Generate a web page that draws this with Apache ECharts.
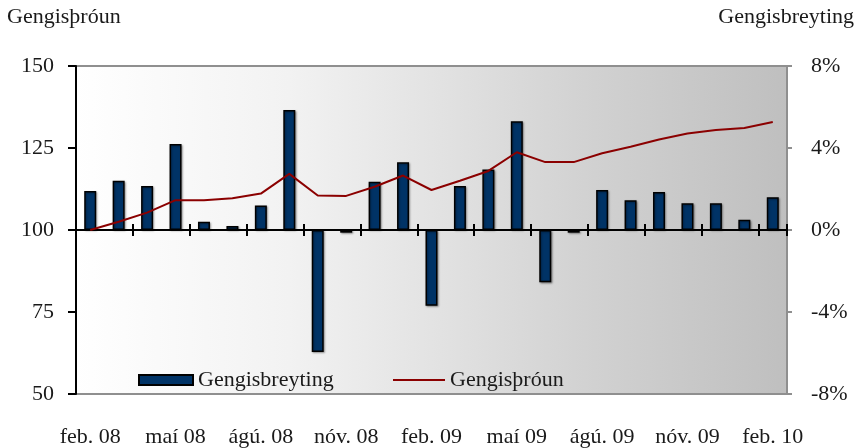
<!DOCTYPE html>
<html>
<head>
<meta charset="utf-8">
<script src="https://cdn.jsdelivr.net/npm/echarts@6/dist/echarts.min.js"></script>
<style>
  html, body { margin: 0; padding: 0; background: #fff; }
  #chart { width: 855px; height: 448px; }
</style>
</head>
<body>
<div id="chart"></div>
<script>
// manuðir feb. 08 - feb. 10
var months = ['feb. 08', 'mar. 08', 'apr. 08', 'maí 08', 'jún. 08', 'júl. 08', 'ágú. 08', 'sep. 08',
  'okt. 08', 'nóv. 08', 'des. 08', 'jan. 09', 'feb. 09', 'mar. 09', 'apr. 09', 'maí 09',
  'jún. 09', 'júl. 09', 'ágú. 09', 'sep. 09', 'okt. 09', 'nóv. 09', 'des. 09', 'jan. 10', 'feb. 10'];
// Gengisbreyting, % (hægri ás)
var breyting = [1.9, 2.4, 2.15, 4.2, 0.4, 0.2, 1.2, 5.85, -5.95, -0.13, 2.35, 3.3, -3.7, 2.15, 2.95,
  5.3, -2.55, -0.13, 1.95, 1.45, 1.85, 1.3, 1.3, 0.5, 1.6];
// Gengisþróun (vinstri ás)
var throun = [100, 102.5, 105.3, 109.1, 109.1, 109.7, 111.1, 117.1, 110.5, 110.4, 113.2, 116.6, 112.2,
  115.0, 118.0, 123.7, 120.7, 120.7, 123.4, 125.4, 127.6, 129.4, 130.5, 131.1, 132.9];

var font = 'Liberation Serif, Times New Roman, serif';
var txt = '#1a1a1a';

var chart = echarts.init(document.getElementById('chart'));
chart.setOption({
  animation: false,
  textStyle: { fontFamily: font },
  grid: {
    left: 76, right: 68, top: 66, bottom: 54,
    show: true,
    borderColor: '#8f8f8f',
    borderWidth: 2,
    backgroundColor: {
      type: 'linear', x: 0, y: 0, x2: 1, y2: 0,
      colorStops: [
        { offset: 0, color: '#ffffff' },
        { offset: 0.3, color: '#f2f2f2' },
        { offset: 0.5, color: '#e3e3e3' },
        { offset: 0.7, color: '#d3d3d3' },
        { offset: 1, color: '#bfbfbf' }
      ]
    }
  },
  graphic: [
    { type: 'text', left: 7, top: 6, style: { text: 'Gengisþróun', font: '22px ' + font, fill: txt } },
    { type: 'text', right: 1, top: 6, style: { text: 'Gengisbreyting', font: '22px ' + font, fill: txt } }
  ],
  legend: [
    {
      data: [{ name: 'Gengisbreyting', icon: 'rect' }], left: 133, top: 364,
      itemWidth: 54, itemHeight: 10,
      textStyle: { fontSize: 22, color: txt, fontFamily: font }
    },
    {
      data: [{ name: 'Gengisþróun', icon: 'rect' }], left: 388, top: 364,
      itemWidth: 52, itemHeight: 2,
      textStyle: { fontSize: 22, color: txt, fontFamily: font }
    }
  ],
  xAxis: [
    {
      // núll-lína með strikum niður
      type: 'category', data: months, position: 'bottom',
      axisLine: { onZero: true, onZeroAxisIndex: 1, lineStyle: { color: '#000', width: 2 } },
      axisTick: { show: true, length: 6, lineStyle: { color: '#000', width: 2 } },
      axisLabel: { show: false }
    },
    {
      // strik upp
      type: 'category', data: months, position: 'bottom',
      axisLine: { show: false, onZero: true, onZeroAxisIndex: 1 },
      axisTick: { show: true, inside: true, length: 6, lineStyle: { color: '#000', width: 2 } },
      axisLabel: { show: false }
    },
    {
      // merkingar neðst
      type: 'category', data: months, position: 'bottom',
      axisLine: { show: false, onZero: false },
      axisTick: { show: false },
      axisLabel: { interval: 2, margin: 32, fontSize: 22, color: txt, fontFamily: font }
    }
  ],
  yAxis: [
    {
      type: 'value', min: 50, max: 150, interval: 25, position: 'left',
      axisLine: { show: true, lineStyle: { color: '#000', width: 2 } },
      axisTick: { show: true, length: 8, lineStyle: { color: '#000', width: 2 } },
      splitLine: { show: false },
      axisLabel: { margin: 22, fontSize: 22, color: txt, fontFamily: font, padding: [8, 0, 0, 0] }
    },
    {
      type: 'value', min: -8, max: 8, interval: 4, position: 'right',
      axisLine: { show: true, lineStyle: { color: '#8f8f8f', width: 2 } },
      axisTick: { show: true, length: 5, lineStyle: { color: '#8f8f8f', width: 2 } },
      splitLine: { show: false },
      axisLabel: { margin: 24, fontSize: 22, color: txt, fontFamily: font, padding: [8, 0, 0, 0],
        formatter: '{value}%' }
    }
  ],
  series: [
    {
      name: 'Gengisbreyting', type: 'bar', xAxisIndex: 0, yAxisIndex: 1,
      data: breyting, barWidth: 12,
      itemStyle: { color: '#003366', borderColor: '#000', borderWidth: 1.5,
        shadowColor: 'rgba(0,0,0,0.35)', shadowBlur: 2, shadowOffsetX: 1, shadowOffsetY: 1 }
    },
    {
      name: 'Gengisþróun', type: 'line', xAxisIndex: 0, yAxisIndex: 0,
      data: throun, symbol: 'none',
      lineStyle: { color: '#8b0000', width: 2 },
      itemStyle: { color: '#8b0000' }
    }
  ]
});
</script>
</body>
</html>
